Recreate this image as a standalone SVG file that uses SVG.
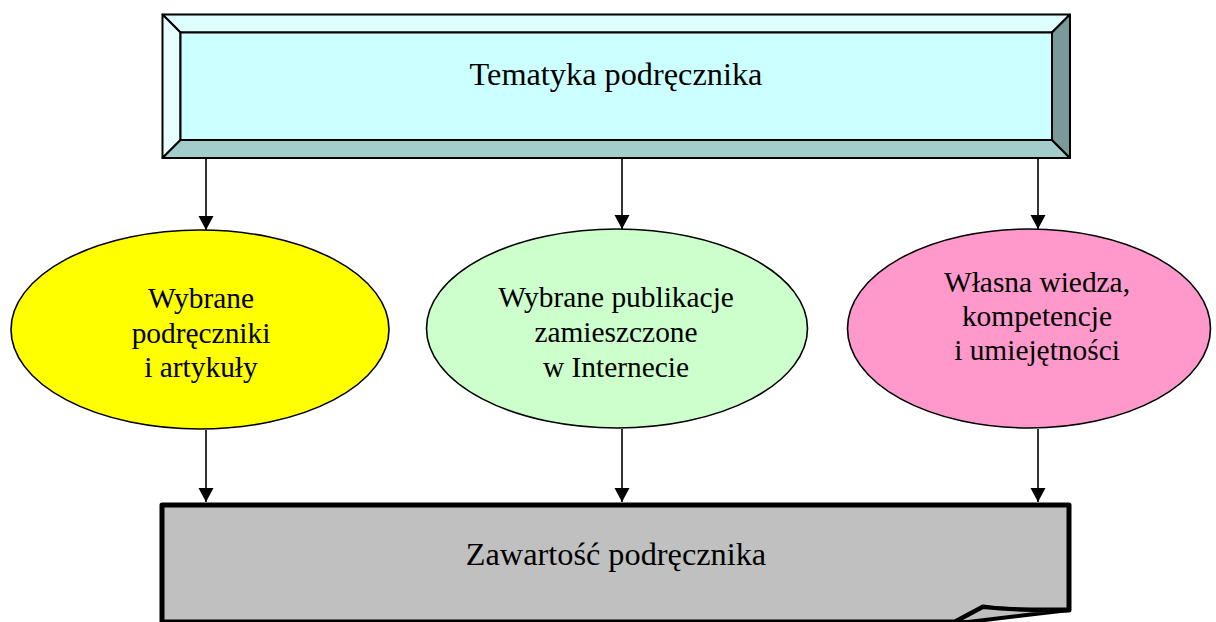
<svg xmlns="http://www.w3.org/2000/svg" width="1216" height="622" viewBox="0 0 1216 622">
<style>
.t{font-family:"Liberation Serif","Times New Roman",serif;fill:#000;text-anchor:middle}
.b{stroke:#000;stroke-width:2;stroke-linejoin:round}
.c{stroke:#000;stroke-width:1.6;fill:none}
</style>
<defs>
<marker id="ah" markerWidth="16" markerHeight="16" refX="14" refY="8" orient="auto" markerUnits="userSpaceOnUse">
<path d="M0,0.5 L14,8 L0,15.5 Z" fill="#000"/>
</marker>
</defs>
<rect width="1216" height="622" fill="#fff"/>
<g id="tematyka">
<polygon class="b" points="162.5,14.5 1070,14.5 1052,32.5 180.5,32.5" fill="#DDFFFF"/>
<polygon class="b" points="162.5,14.5 180.5,32.5 180.5,140 162.5,158" fill="#E8FFFF"/>
<polygon class="b" points="162.5,158 180.5,140 1052,140 1070,158" fill="#A3CCCC"/>
<polygon class="b" points="1070,14.5 1070,158 1052,140 1052,32.5" fill="#7A9999"/>
<rect class="b" x="180.5" y="32.5" width="871.5" height="107.5" fill="#CCFFFF"/>
<text class="t" x="616" y="85" font-size="32.3">Tematyka podręcznika</text>
</g>
<g id="podreczniki">
<ellipse cx="200" cy="329.5" rx="189" ry="99.5" fill="#FFFF00" stroke="#000" stroke-width="1.6"/>
<text class="t" font-size="29.4"><tspan x="201" y="308">Wybrane</tspan><tspan x="201" y="343">podręczniki</tspan><tspan x="201" y="377">i artykuły</tspan></text>
</g>
<g id="publikacje">
<ellipse cx="617" cy="328.5" rx="190.5" ry="99.5" fill="#CCFFCC" stroke="#000" stroke-width="1.6"/>
<text class="t" font-size="29.4"><tspan x="616" y="307">Wybrane publikacje</tspan><tspan x="616" y="342">zamieszczone</tspan><tspan x="616" y="377">w Internecie</tspan></text>
</g>
<g id="wiedza">
<ellipse cx="1029" cy="328.5" rx="181.5" ry="99.5" fill="#FF99CC" stroke="#000" stroke-width="1.6"/>
<text class="t" font-size="29.4"><tspan x="1037" y="292">Własna wiedza,</tspan><tspan x="1037" y="326">kompetencje</tspan><tspan x="1037" y="360">i umiejętności</tspan></text>
</g>
<g id="zawartosc">
<path d="M162,505 L1069,505 L1069,610 L1040,610 Q1000,610 983,607 L955,622 L162,622 Z" fill="#C0C0C0" stroke="#000" stroke-width="5" stroke-linejoin="round"/>
<path d="M983,607 Q1020,611 1069,610 L968,622 L955,622 Z" fill="#C0C0C0" stroke="#000" stroke-width="4" stroke-linejoin="round"/>
<text class="t" x="616" y="565" font-size="32.3">Zawartość podręcznika</text>
</g>
<g id="connectors">
<line class="c" x1="206" y1="158" x2="206" y2="230" marker-end="url(#ah)"/>
<line class="c" x1="622" y1="158" x2="622" y2="229" marker-end="url(#ah)"/>
<line class="c" x1="1038" y1="158" x2="1038" y2="229" marker-end="url(#ah)"/>
<line class="c" x1="206" y1="430" x2="206" y2="502" marker-end="url(#ah)"/>
<line class="c" x1="622" y1="429" x2="622" y2="502" marker-end="url(#ah)"/>
<line class="c" x1="1038" y1="429" x2="1038" y2="502" marker-end="url(#ah)"/>
</g>
</svg>
